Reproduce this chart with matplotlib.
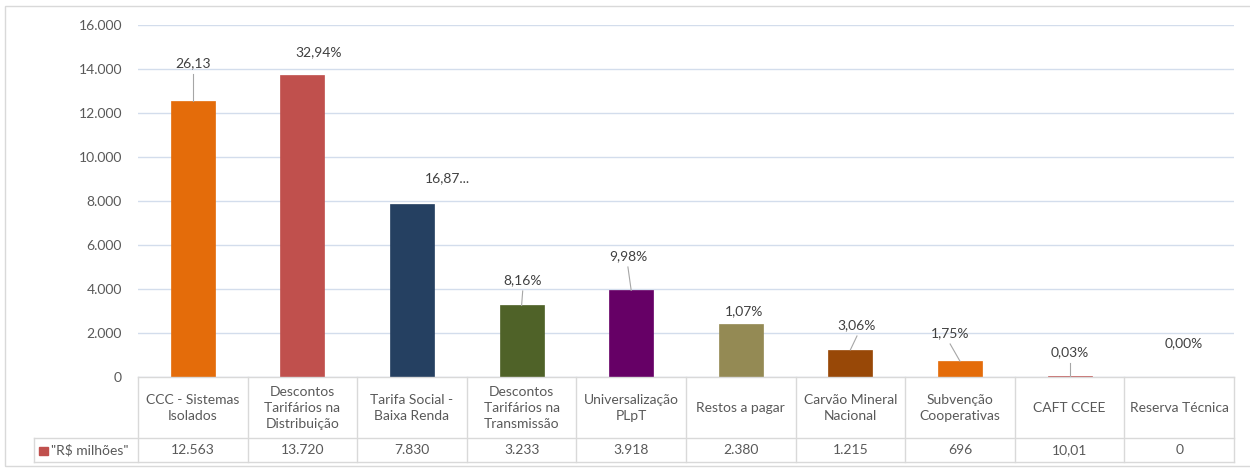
import matplotlib
matplotlib.use('Agg')
import matplotlib.pyplot as plt
from matplotlib.lines import Line2D
from matplotlib.patches import Rectangle
from matplotlib.transforms import blended_transform_factory

categories = ['CCC - Sistemas\nIsolados', 'Descontos\nTarifários na\nDistribuição',
              'Tarifa Social -\nBaixa Renda', 'Descontos\nTarifários na\nTransmissão',
              'Universalização\nPLpT', 'Restos a pagar', 'Carvão Mineral\nNacional',
              'Subvenção\nCooperativas', 'CAFT CCEE', 'Reserva Técnica']
values = [12563, 13720, 7830, 3233, 3918, 2380, 1215, 696, 10.01, 0]
value_labels = ['12.563', '13.720', '7.830', '3.233', '3.918', '2.380', '1.215', '696', '10,01', '0']
pct_labels = ['26,13', '32,94%', '16,87...', '8,16%', '9,98%', '1,07%', '3,06%', '1,75%', '0,03%', '0,00%']
series_name = '"R$ milhões"'
yticks = [0, 2000, 4000, 6000, 8000, 10000, 12000, 14000, 16000]

colors = ['#E46C0A', '#C0504D', '#254061', '#4F6228', '#660066',
          '#948A54', '#984807', '#E46C0A', '#C0504D', '#C0504D']
# label placement (x offset in categories, y in data units, leader line?)
lab_dx = [0, 0.146, 0.32, 0.01, -0.03, 0.03, 0.06, -0.09, 0, 0.04]
lab_y = [14269, 14770, 9035, 4392, 5485, 2981, 2344, 1980, 1115, 1525]
leader = [True, False, False, True, True, False, True, True, True, False]

plt.rcParams['font.family'] = ['Lato', 'DejaVu Sans']
txt = '#595959'
fs = 10

W, H = 1250, 469
fig = plt.figure(figsize=(12.5, 4.69), dpi=100)
fig.patches.append(Rectangle((5 / W, 3 / H), 1.0, 1 - 9 / H, transform=fig.transFigure,
                             fill=False, edgecolor='#D9D9D9', linewidth=1))

ax = fig.add_axes([138 / W, 1 - 376.5 / H, (1234 - 138) / W, (376.5 - 25) / H])
x = list(range(len(values)))
ax.bar(x, values, width=0.4, color=colors, edgecolor=colors, linewidth=0.5, zorder=3)
ax.set_xlim(-0.5, len(values) - 0.5)
ax.set_ylim(0, 16000)
ax.set_yticks(yticks)
ax.set_yticklabels([f'{v:,}'.replace(',', '.') for v in yticks], color=txt, fontsize=fs)
ax.set_xticks([])
ax.tick_params(axis='y', length=0, pad=11.5)
ax.grid(axis='y', color='#D3DDEC', linewidth=1, zorder=0)
for s in ax.spines.values():
    s.set_visible(False)

for i, v in enumerate(values):
    lx = i + lab_dx[i]
    ax.text(lx, lab_y[i], pct_labels[i], ha='center', va='center', color='#404040', fontsize=fs)
    if leader[i]:
        ax.plot([lx, i], [lab_y[i] - 500, v], color='#A6A6A6', linewidth=0.8, zorder=4)

# data table below the chart
line_c = '#D9D9D9'
tr = blended_transform_factory(ax.transData, fig.transFigure)
y_top, y_mid, y_bot = 1 - 377 / H, 1 - 438 / H, 1 - 462 / H
for k in range(len(values) + 1):
    fig.add_artist(Line2D([k - 0.5, k - 0.5], [y_top, y_bot], transform=tr, color=line_c, linewidth=1))
fig.add_artist(Line2D([138 / W, 1234 / W], [y_top, y_top], transform=fig.transFigure, color=line_c, linewidth=1))
for yy in (y_mid, y_bot):
    fig.add_artist(Line2D([34 / W, 1234 / W], [yy, yy], transform=fig.transFigure, color=line_c, linewidth=1))
fig.add_artist(Line2D([34 / W, 34 / W], [y_mid, y_bot], transform=fig.transFigure, color=line_c, linewidth=1))

for i in x:
    fig.text(i, (y_top + y_mid) / 2, categories[i], transform=tr, ha='center', va='center',
             color=txt, fontsize=fs, linespacing=1.4)
    fig.text(i, (y_mid + y_bot) / 2, value_labels[i], transform=tr, ha='center', va='center',
             color=txt, fontsize=fs)

fig.patches.append(Rectangle((39 / W, 1 - 455 / H), 9 / W, 8 / H, transform=fig.transFigure,
                             color='#C0504D'))
fig.text(51 / W, (y_mid + y_bot) / 2, series_name, ha='left', va='center', color=txt, fontsize=fs)

fig.savefig('out.png', dpi=100)
